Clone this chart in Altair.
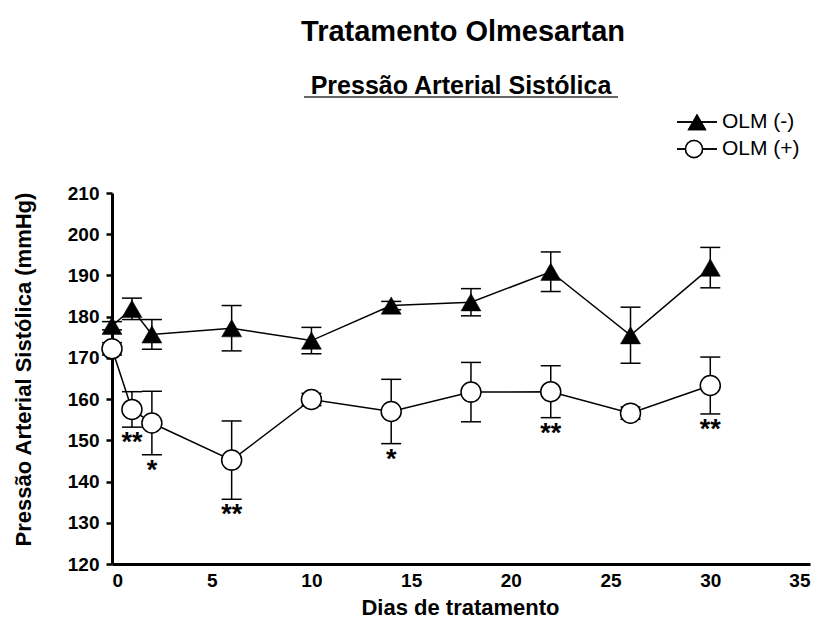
import altair as alt
import pandas as pd

# ---- data ----
days = [0, 1, 2, 6, 10, 14, 18, 22, 26, 30]
olm_neg = [177.8, 181.9, 175.7, 177.2, 174.2, 182.7, 183.5, 190.9, 175.5, 191.9]
olm_neg_err = [1.0, 2.6, 3.6, 5.5, 3.2, 1.0, 3.3, 4.8, 6.8, 4.9]
olm_pos = [172.2, 157.5, 154.2, 145.2, 159.9, 157.0, 161.7, 161.8, 156.6, 163.3]
olm_pos_err = [1.5, 4.3, 7.7, 9.5, 1.5, 7.8, 7.2, 6.3, 1.5, 6.9]
stars_pos = ["", "**", "*", "**", "", "*", "", "**", "", "**"]

series_names = ["OLM (-)", "OLM (+)"]
title_text = ["Tratamento Olmesartan"]
subtitle_text = ["Pressão Arterial Sistólica"]
x_title = "Dias de tratamento"
y_title = "Pressão Arterial Sistólica (mmHg)"
x_ticks = [0, 5, 10, 15, 20, 25, 30, 35]
y_ticks = [120, 130, 140, 150, 160, 170, 180, 190, 200, 210]

rows = []
for name, means, errs in [(series_names[0], olm_neg, olm_neg_err),
                          (series_names[1], olm_pos, olm_pos_err)]:
    for d, m, e in zip(days, means, errs):
        rows.append({"series": name, "day": d, "mean": m, "lo": m - e, "hi": m + e})
df = pd.DataFrame(rows)
df_neg = df[df.series == series_names[0]]
df_pos = df[df.series == series_names[1]]
df_star = pd.DataFrame({"day": days, "lo": [m - e for m, e in zip(olm_pos, olm_pos_err)],
                        "star": stars_pos})
df_star = df_star[df_star.star != ""]

FONT = "Liberation Sans"

xs = alt.Scale(domain=[0, 35], nice=False, zero=False)
ys = alt.Scale(domain=[120, 210], nice=False, zero=False)
x_axis = alt.Axis(values=x_ticks, title=x_title, ticks=False, labelPadding=7,
                  titleX=348, titleY=43, titleBaseline="middle", titleAnchor="middle")
y_axis = alt.Axis(values=y_ticks, title=y_title, tickSize=6, labelPadding=7,
                  titleX=-89, titleY=176, titleBaseline="middle", titleAnchor="middle")

X = alt.X("day:Q", scale=xs, axis=x_axis)

def Yf(field):
    return alt.Y(f"{field}:Q", scale=ys, axis=y_axis)

base = alt.Chart(df)

bars = base.mark_rule(color="black", strokeWidth=1.5).encode(x=X, y=Yf("lo"), y2="hi:Q")
caps_hi = base.mark_tick(orient="horizontal", color="black", size=20, thickness=1.5, opacity=1).encode(x=X, y=Yf("hi"))
caps_lo = base.mark_tick(orient="horizontal", color="black", size=20, thickness=1.5, opacity=1).encode(x=X, y=Yf("lo"))
lines = base.mark_line(color="black", strokeWidth=1.5).encode(x=X, y=Yf("mean"), detail="series:N", order="day:Q")

circles = alt.Chart(df_pos).mark_point(shape="circle", filled=True, fill="white", stroke="black",
                                        strokeWidth=1.5, size=400, opacity=1).encode(x=X, y=Yf("mean"))
tris = alt.Chart(df_neg).mark_point(shape="triangle-up", filled=True, fill="black", stroke="black",
                                     strokeWidth=0.5, size=400, opacity=1).encode(x=X, y=Yf("mean"))

stars = alt.Chart(df_star).mark_text(font=FONT, fontSize=27, fontWeight="bold", baseline="top",
                                     dy=3, color="black").encode(x=X, y=Yf("lo"), text="star:N")

# titles
title = alt.Chart(pd.DataFrame({"t": title_text})).mark_text(
    font=FONT, fontSize=29, fontWeight="bold", align="center", baseline="alphabetic", color="black"
).encode(x=alt.value(351), y=alt.value(-152), text="t:N")
subtitle = alt.Chart(pd.DataFrame({"t": subtitle_text})).mark_text(
    font=FONT, fontSize=25, fontWeight="bold", align="center", baseline="alphabetic", color="black"
).encode(x=alt.value(349), y=alt.value(-99), text="t:N")
underline = alt.Chart(pd.DataFrame({"t": subtitle_text})).mark_rule(color="#333333", strokeWidth=1.5).encode(
    x=alt.value(192), x2=alt.value(506), y=alt.value(-96))

# manual legend
leg = pd.DataFrame({"name": series_names})
leg_line1 = alt.Chart(leg).mark_rule(color="black", strokeWidth=1.5).encode(
    x=alt.value(565), x2=alt.value(605), y=alt.value(-71))
leg_line2 = alt.Chart(leg).mark_rule(color="black", strokeWidth=1.5).encode(
    x=alt.value(565), x2=alt.value(605), y=alt.value(-44))
leg_tri = alt.Chart(leg).mark_point(shape="triangle-up", filled=True, fill="black", size=360, opacity=1).encode(
    x=alt.value(585), y=alt.value(-71))
leg_circ = alt.Chart(leg).mark_point(shape="circle", filled=True, fill="white", stroke="black",
                                     strokeWidth=1.5, size=289, opacity=1).encode(
    x=alt.value(582), y=alt.value(-44))
leg_txt1 = alt.Chart(pd.DataFrame({"t": [series_names[0]]})).mark_text(
    font=FONT, fontSize=21, align="left", baseline="middle", color="black").encode(
    x=alt.value(610), y=alt.value(-71), text="t:N")
leg_txt2 = alt.Chart(pd.DataFrame({"t": [series_names[1]]})).mark_text(
    font=FONT, fontSize=21, align="left", baseline="middle", color="black").encode(
    x=alt.value(610), y=alt.value(-44), text="t:N")

chart = alt.layer(
    bars, caps_hi, caps_lo, lines, circles, tris, stars,
    title, subtitle, underline,
    leg_line1, leg_line2, leg_tri, leg_circ, leg_txt1, leg_txt2,
).properties(
    width=698, height=371,
    autosize=alt.AutoSizeParams(type="none"),
    padding={"left": 104, "top": 185, "right": 5, "bottom": 72},
).configure_axis(
    domainColor="black", domainWidth=3, tickColor="black", tickWidth=2.5,
    labelFont=FONT, labelFontWeight="bold", labelFontSize=19, labelColor="black",
    titleFont=FONT, titleFontWeight="bold", titleFontSize=22, titleColor="black",
    grid=False,
).configure_view(stroke=None)

chart.save("out.html", embed_options={"renderer": "svg", "actions": False})
